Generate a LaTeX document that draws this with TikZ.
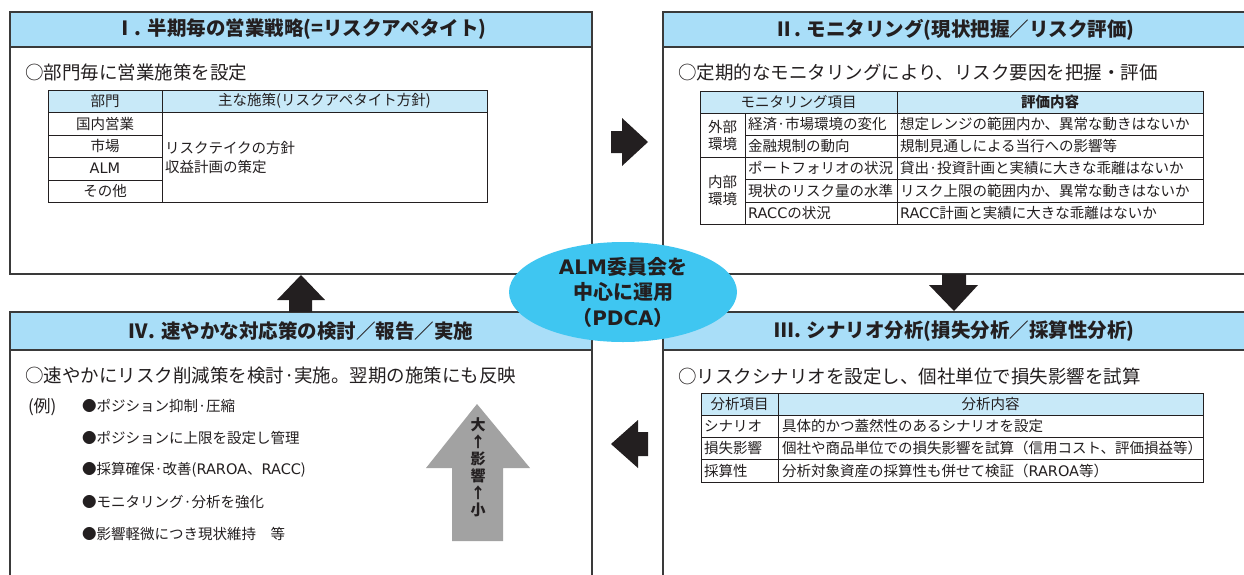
\documentclass[tikz,border=0pt]{standalone}
\usepackage{fontspec}
\setmainfont{Noto Sans CJK JP}
\newfontfamily\latin{DejaVu Sans}
\usetikzlibrary{shapes.geometric}

\definecolor{ink}{HTML}{231F20}
\definecolor{frame}{HTML}{3A3A3A}
\definecolor{headblue}{HTML}{A9DEF8}
\definecolor{rowblue}{HTML}{C8E9F8}
\definecolor{almblue}{HTML}{3FC6F1}
\definecolor{bigarrow}{HTML}{A2A2A2}
\newcommand{\jsize}[1]{\fontsize{#1}{#1}\selectfont}
\newcommand{\lt}[1]{{\latin #1}}

\begin{document}
\begin{tikzpicture}[x=1pt,y=-1pt,color=ink]
	\tikzstyle{every node}=[inner sep=0pt,outer sep=0pt,text=ink];
	\tikzstyle{panel}=[draw=frame,line width=1.8pt,fill=white];
	\tikzstyle{head}=[draw=frame,line width=1.8pt,fill=headblue,font=\bfseries\jsize{19.5}];
	\tikzstyle{lead}=[anchor=west,font=\jsize{18.5}];
	\tikzstyle{cell}=[font=\jsize{14.5}];
	\tikzstyle{item}=[anchor=west,font=\jsize{14.5}];
	\tikzstyle{grid}=[draw=ink,line width=0.8pt];
	\tikzstyle{block}=[fill=ink];

	\useasboundingbox (0,0) rectangle (1244,574);
	\clip (0,0) rectangle (1244,574);

	% I
	\node at (301, 143) (p1) [panel,minimum width=582pt,minimum height=262pt] {};
	\node at (301, 29.5) (h1) [head,minimum width=582pt,minimum height=35pt] {Ⅰ. 半期毎の営業戦略(=リスクアペタイト)};
	\node at (25, 72) (l1) [lead] {○部門毎に営業施策を設定};

	\draw [grid,fill=rowblue] (48,90) rectangle (487,112);
	\draw [grid] (48,90) rectangle (487,202);
	\draw [grid] (162,90) -- (162,202);
	\draw [grid] (48,135) -- (162,135);
	\draw [grid] (48,157) -- (162,157);
	\draw [grid] (48,180) -- (162,180);
	\node at (105, 101) (t1h1) [cell] {部門};
	\node at (324.5, 101) (t1h2) [cell] {主な施策(リスクアペタイト方針)};
	\node at (105, 123.5) (t1r1) [cell] {国内営業};
	\node at (105, 146) (t1r2) [cell] {市場};
	\node at (105, 168.5) (t1r3) [cell] {\lt{ALM}};
	\node at (105, 191) (t1r4) [cell] {その他};
	\node at (165, 157.5) (t1c) [item,align=left,font=\fontsize{14.5}{19}\selectfont] {リスクテイクの方針\\収益計画の策定};

	% II
	\node at (954.5, 143) (p2) [panel,minimum width=583pt,minimum height=262pt] {};
	\node at (954.5, 29.5) (h2) [head,minimum width=583pt,minimum height=35pt] {Ⅱ. モニタリング(現状把握／リスク評価)};
	\node at (678, 72) (l2) [lead] {○定期的なモニタリングにより、リスク要因を把握・評価};

	\draw [grid,fill=rowblue] (700,91) rectangle (1203,113);
	\draw [grid] (700,91) rectangle (1203,224);
	\draw [grid] (700,157) -- (1203,157);
	\draw [grid] (745,135) -- (1203,135);
	\draw [grid] (745,179) -- (1203,179);
	\draw [grid] (745,202) -- (1203,202);
	\draw [grid] (745,113) -- (745,224);
	\draw [grid] (897,91) -- (897,224);
	\node at (798.5, 102) (t2h1) [cell] {モニタリング項目};
	\node at (1050, 102) (t2h2) [cell,font=\bfseries\jsize{14.5}] {評価内容};
	\node at (722.5, 135) (t2g1) [cell,align=center,font=\fontsize{14.5}{17}\selectfont] {外部\\環境};
	\node at (722.5, 190.5) (t2g2) [cell,align=center,font=\fontsize{14.5}{17}\selectfont] {内部\\環境};
	\node at (748, 124) (t2a1) [item] {経済·市場環境の変化};
	\node at (748, 146) (t2a2) [item] {金融規制の動向};
	\node at (748, 168) (t2a3) [item] {ポートフォリオの状況};
	\node at (748, 190.5) (t2a4) [item] {現状のリスク量の水準};
	\node at (748, 213) (t2a5) [item] {\lt{RACC}の状況};
	\node at (900, 124) (t2b1) [item] {想定レンジの範囲内か、異常な動きはないか};
	\node at (900, 146) (t2b2) [item] {規制見通しによる当行への影響等};
	\node at (900, 168) (t2b3) [item] {貸出·投資計画と実績に大きな乖離はないか};
	\node at (900, 190.5) (t2b4) [item] {リスク上限の範囲内か、異常な動きはないか};
	\node at (900, 213) (t2b5) [item] {\lt{RACC}計画と実績に大きな乖離はないか};

	% III
	\node at (954.5, 446) (p3) [panel,minimum width=583pt,minimum height=268pt] {};
	\node at (954.5, 331) (h3) [head,minimum width=583pt,minimum height=38pt] {Ⅲ. シナリオ分析(損失分析／採算性分析)};
	\node at (678, 376) (l3) [lead] {○リスクシナリオを設定し、個社単位で損失影響を試算};

	\draw [grid,fill=rowblue] (701,393) rectangle (1203,415);
	\draw [grid] (701,393) rectangle (1203,482);
	\draw [grid] (701,437) -- (1203,437);
	\draw [grid] (701,459) -- (1203,459);
	\draw [grid] (778,393) -- (778,482);
	\node at (739.5, 404) (t3h1) [cell] {分析項目};
	\node at (990.5, 404) (t3h2) [cell] {分析内容};
	\node at (704, 426) (t3a1) [item] {シナリオ};
	\node at (704, 448) (t3a2) [item] {損失影響};
	\node at (704, 470.5) (t3a3) [item] {採算性};
	\node at (782, 426) (t3b1) [item] {具体的かつ蓋然性のあるシナリオを設定};
	\node at (782, 448) (t3b2) [item] {個社や商品単位での損失影響を試算（信用コスト、評価損益等）};
	\node at (782, 470.5) (t3b3) [item] {分析対象資産の採算性も併せて検証（\lt{RAROA}等）};

	% IV
	\node at (301, 446) (p4) [panel,minimum width=582pt,minimum height=268pt] {};
	\node at (301, 331) (h4) [head,minimum width=582pt,minimum height=38pt] {Ⅳ. 速やかな対応策の検討／報告／実施};
	\node at (25, 375) (l4) [lead] {○速やかにリスク削減策を検討·実施。翌期の施策にも反映};
	\node at (28, 407) (ex) [anchor=west,font=\jsize{17}] {(例)};
	\node at (82, 406) (m1) [item] {●ポジション抑制·圧縮};
	\node at (82, 438) (m2) [item] {●ポジションに上限を設定し管理};
	\node at (82, 470) (m3) [item] {●採算確保·改善(\lt{RAROA}、\lt{RACC})};
	\node at (82, 502) (m4) [item] {●モニタリング·分析を強化};
	\node at (82, 534) (m5) [item] {●影響軽微につき現状維持　等};

	\fill [bigarrow] (477,404) -- (530,468) -- (503,468) -- (503,541) -- (452,541) -- (452,468) -- (426,468) -- cycle;
	\node at (478, 467) (scale) [align=center,font=\bfseries\fontsize{15}{17}\selectfont] {大\\↑\\影\\響\\↑\\小};

	% cycle arrows
	\fill [block] (611,131) -- (622,131) -- (622,118) -- (648,142) -- (622,166) -- (622,153) -- (611,153) -- cycle;
	\fill [block] (942,274) -- (966,274) -- (966,285) -- (978,285) -- (954,311) -- (929,285) -- (942,285) -- cycle;
	\fill [block] (648,432) -- (638,432) -- (638,420) -- (611,444) -- (638,468) -- (638,456) -- (648,456) -- cycle;
	\fill [block] (289,312) -- (312,312) -- (312,300) -- (325,300) -- (301,275) -- (277,300) -- (289,300) -- cycle;

	\node at (623, 292) (alm) [ellipse,fill=almblue,minimum width=228pt,minimum height=100pt,align=center,font=\bfseries\fontsize{20}{25.5}\selectfont] {\lt{ALM}委員会を\\中心に運用\\（\lt{PDCA}）};
\end{tikzpicture}
\end{document}
